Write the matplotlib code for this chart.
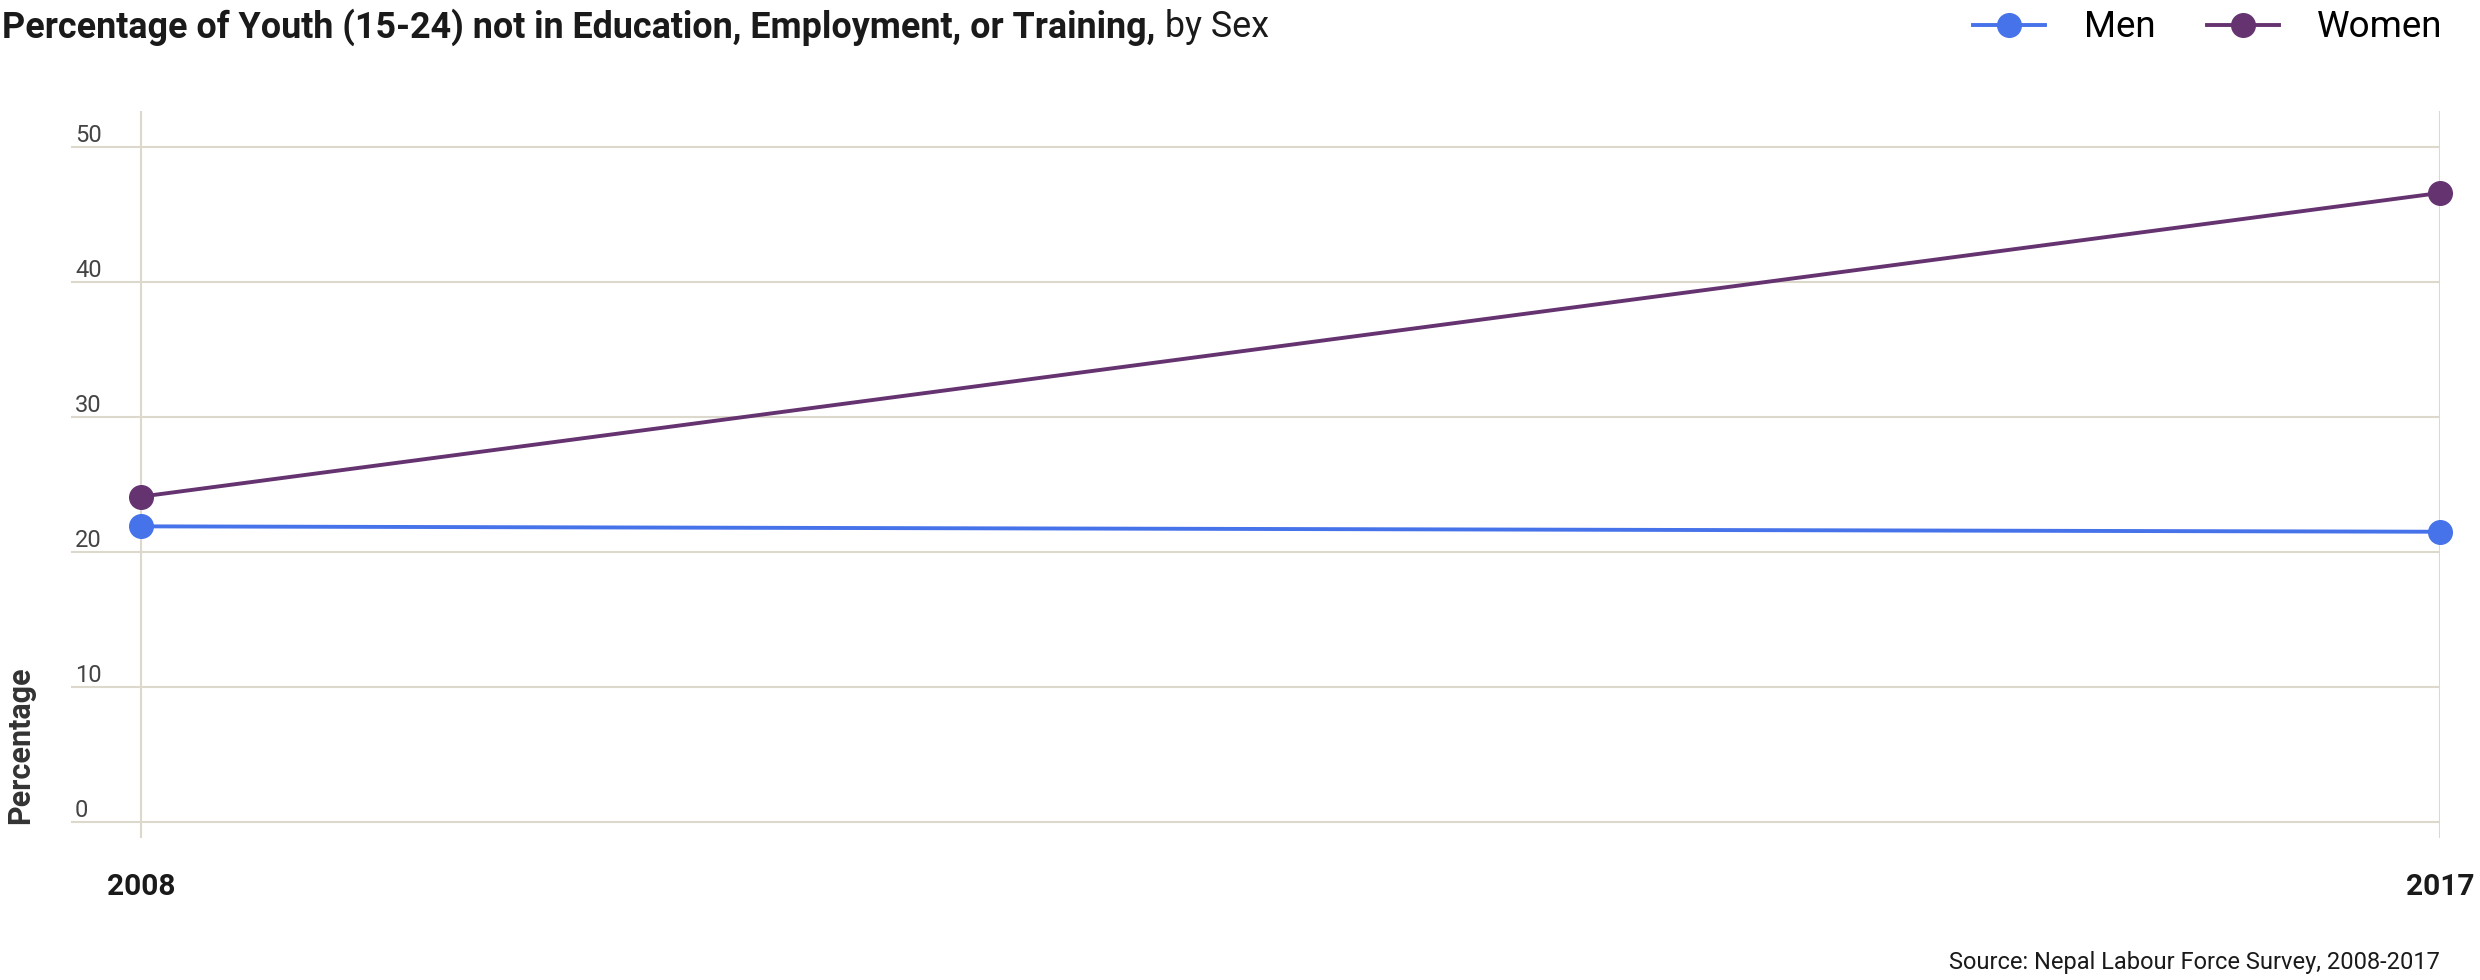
import matplotlib.pyplot as plt
from matplotlib.lines import Line2D

# data
years = [2008, 2017]
men = [21.9, 21.5]
women = [24.1, 46.6]
yticks = [0, 10, 20, 30, 40, 50]

men_color = '#4672EA'
women_color = '#663371'
grid_color = '#DCD8CC'

plt.rcParams['font.family'] = ['Roboto', 'DejaVu Sans']

fig = plt.figure(figsize=(24.8, 9.8), dpi=100)
ax = fig.add_axes([0.0286, 0.1449, 0.9552, 0.7418])

ax.plot(years, men, color=men_color, lw=2.8, marker='o', ms=17, clip_on=False, zorder=3)
ax.plot(years, women, color=women_color, lw=2.8, marker='o', ms=17, clip_on=False, zorder=3)

ax.set_xlim(2008 - 0.274, 2017)
ax.set_ylim(-1.19, 52.67)

ax.set_xticks(years)
ax.set_xticklabels([str(y) for y in years], fontsize=21.5, fontweight='bold', color='#1a1a1a')
ax.set_yticks(yticks)
ax.set_yticklabels([str(v) for v in yticks], fontsize=17, color='#444444', ha='left', va='bottom')
ax.tick_params(axis='x', length=0, pad=25)
ax.tick_params(axis='y', length=0, pad=-3)
ax.grid(True, color=grid_color, lw=1.5)
ax.set_axisbelow(True)
for s in ax.spines.values():
    s.set_visible(False)

fig.text(0.002, 0.159, 'Percentage', rotation=90, fontsize=22, fontweight='bold',
         color='#333333', ha='left', va='bottom')

# title in two weights
t1 = fig.text(0.001, 0.972, 'Percentage of Youth (15-24) not in Education, Employment, or Training,',
              fontsize=25.8, fontweight='bold', color='#1a1a1a', ha='left', va='center')
ax.annotate(' by Sex', xy=(1, 0.5), xycoords=t1, fontsize=25.8, color='#1a1a1a',
            ha='left', va='center')

handles = [Line2D([], [], color=men_color, lw=2.8, marker='o', ms=17),
           Line2D([], [], color=women_color, lw=2.8, marker='o', ms=17)]
fig.legend(handles, ['Men', 'Women'], loc='center right', bbox_to_anchor=(0.985, 0.972),
           ncol=2, frameon=False, fontsize=26.5, handlelength=1.95, handletextpad=1.05,
           columnspacing=1.4, borderaxespad=0, borderpad=0)

fig.text(0.984, 0.006, 'Source: Nepal Labour Force Survey, 2008-2017', fontsize=17,
         color='#1a1a1a', ha='right', va='bottom')

fig.savefig('out.png', dpi=100)
